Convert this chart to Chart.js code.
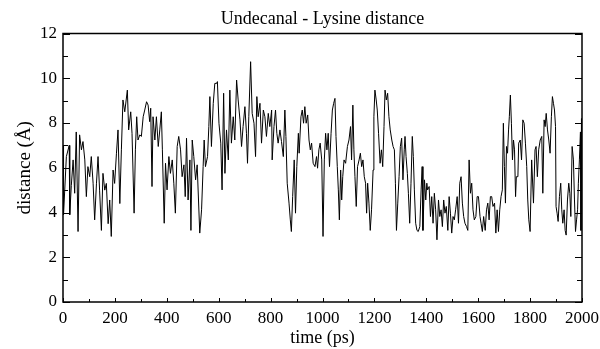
<!DOCTYPE html>
<html>
<head>
<meta charset="utf-8">
<script src="https://cdn.jsdelivr.net/npm/chart.js@4.4.1/dist/chart.umd.min.js"></script>
<style>
  html, body { margin: 0; padding: 0; background: #fff; }
</style>
</head>
<body>
<canvas id="distChart" width="600" height="349"></canvas>
<script>
const chartTitle = 'Undecanal - Lysine distance';
const xLabel = 'time (ps)';
const yLabel = 'distance (\u00c5)';

// time (ps)
const times = [
  0, 2, 13, 24, 26, 32, 39, 45, 51, 58, 64, 71, 77, 84, 90, 96, 103, 109, 116, 122,
  129, 135, 141, 148, 154, 161, 167, 174, 180, 186, 193, 199, 206, 212, 219, 225, 231,
  238, 248, 253, 261, 266, 274, 279, 284, 289, 296, 302, 309, 315, 322, 328, 334, 338,
  343, 347, 354, 360, 367, 373, 379, 383, 390, 395, 401, 408, 414, 421, 427, 433, 440,
  446, 453, 459, 466, 471, 476, 482, 489, 493, 498, 504, 511, 517, 527,
  534, 540, 544, 549, 557, 562, 566, 572, 579, 585, 592, 595, 601, 608, 613, 619, 624,
  630, 637, 643, 649, 656, 662, 669, 675, 682, 688, 694, 701, 707, 711, 716, 723, 729,
  736, 742, 747, 752, 759, 765, 772,
  778, 784, 791, 797, 804, 806, 813, 819, 824, 829, 836, 842, 849, 855, 859, 864, 871,
  876, 880, 885, 891, 896, 901, 907, 910, 917, 922, 927, 932, 937, 943, 948, 953, 958,
  964, 971, 977, 981, 986, 991, 997, 1002, 1007, 1012, 1017, 1022, 1027, 1033, 1038, 1043,
  1048, 1052, 1057, 1061, 1065, 1070, 1074, 1078, 1083, 1089, 1096, 1102, 1108, 1112,
  1117, 1121, 1125, 1130, 1135, 1141, 1146, 1151, 1156, 1161, 1166, 1170, 1174, 1179,
  1184, 1189, 1195, 1198, 1202, 1207, 1211, 1216, 1222, 1227, 1232, 1237, 1241, 1246,
  1251, 1256, 1261, 1267, 1272, 1277, 1281, 1285, 1290, 1295, 1300, 1305, 1310, 1315,
  1318, 1322, 1327, 1331, 1336, 1341, 1346, 1350, 1354, 1359, 1364, 1369, 1375, 1380,
  1384, 1387, 1393, 1398, 1402, 1405, 1411, 1416, 1421, 1426, 1431, 1436, 1441, 1447,
  1452, 1457, 1462, 1467, 1472, 1477, 1483, 1488, 1493, 1498, 1503, 1508, 1513, 1519,
  1524, 1529, 1534, 1539, 1544, 1549, 1555, 1560, 1565, 1570, 1575, 1580, 1585,
  1591, 1596, 1601, 1607, 1611, 1616, 1621, 1627, 1632, 1637, 1642, 1647, 1652, 1657,
  1663, 1668, 1673, 1678, 1683, 1688, 1693, 1697, 1701, 1705, 1709, 1713, 1717, 1720,
  1724, 1728, 1732, 1736, 1740, 1744, 1747, 1753, 1756, 1762, 1767, 1772, 1777, 1782,
  1787, 1791, 1795,
  1800, 1806, 1813, 1819, 1823, 1828, 1833, 1839, 1845, 1849, 1854, 1858, 1862, 1867,
  1872, 1877, 1882, 1886, 1890, 1894, 1898, 1900, 1904, 1908, 1913, 1918, 1922, 1926,
  1931, 1935, 1939, 1944, 1949, 1953, 1957, 1962, 1967, 1971, 1975, 1979, 1983, 1986,
  1990, 1994, 1996, 1998, 2000
];

// distance (Angstrom) at each time above
const distance = [
  7.0, 3.9, 6.5, 7.0, 3.9, 5.2, 6.35, 4.86, 7.6, 3.15, 7.47, 6.8, 7.17, 6.35, 4.71, 6.05, 5.6, 6.5, 5.31, 3.67,
  5.31, 6.5, 5.0, 3.2, 5.75, 5.0, 5.3, 3.5, 4.56, 2.93, 5.9, 5.3, 6.65, 7.69, 4.4, 6.8, 9.03,
  8.5, 9.47, 7.69, 8.5, 7.54, 3.97, 6.8, 8.28, 7.24, 7.47, 7.4, 8.28, 8.58, 8.95, 8.8, 8.06, 8.66,
  5.16, 8.28, 7.24, 8.28, 6.95, 7.69, 8.5, 6.8, 3.52, 6.2, 5.01, 6.5, 5.75, 6.35, 5.31, 3.97, 6.95,
  7.4, 6.8, 5.6, 6.13, 4.71, 7.32, 4.56, 6.35, 3.2, 7.24, 6.5, 5.46, 6.13, 3.08,
  4.12, 6.05, 7.24, 6.05, 6.5, 7.84, 9.18, 6.95, 8.88, 9.77, 9.77, 9.85, 7.99, 7.1, 5.01, 9.33, 5.75,
  7.69, 6.35, 9.47, 7.1, 8.28, 7.24, 9.92, 9.03, 8.14, 6.95, 7.84, 8.73, 7.54, 6.2, 8.28, 10.74, 8.43,
  7.99, 6.5, 9.18, 8.28, 8.88, 7.1, 8.58,
  8.28, 7.4, 8.43, 7.84, 8.58, 6.35, 7.84, 8.58, 7.54, 7.1, 7.69, 7.17, 6.5, 8.58, 7.4, 5.31, 4.42,
  3.67, 3.15, 4.71, 6.35, 3.97, 6.05, 7.54, 6.65, 8.28, 8.58, 7.99, 8.73, 7.99, 8.36, 7.24, 6.8, 7.1,
  6.2, 6.05, 6.5, 5.98, 6.8, 7.1, 6.35, 2.93, 6.35, 7.54, 6.8, 7.54, 6.05, 7.54, 8.58, 8.88,
  9.1, 7.4, 6.05, 5.01, 3.67, 5.9, 4.56, 5.6, 6.35, 6.2, 6.95, 7.24, 7.84, 6.35,
  8.8, 6.8, 5.6, 4.27, 6.05, 6.35, 6.65, 6.05, 6.35, 5.6, 5.31, 3.97, 5.31, 4.42,
  3.2, 4.12, 5.9, 8.28, 9.47, 9.03, 8.58, 7.54, 6.2, 6.8, 6.05, 7.84, 9.47, 9.03,
  9.33, 8.28, 7.69, 7.24, 6.95, 6.8, 5.31, 3.2, 4.42, 5.6, 6.95, 7.32, 5.46, 6.8,
  7.4, 6.5, 5.75, 4.86, 3.52, 5.31, 7.4, 6.5, 5.01, 3.52, 3.2, 3.15, 3.37, 5.01,
  6.05, 3.2, 5.46, 4.56, 5.31, 5.01, 5.16, 3.82, 4.71, 3.52, 4.86, 4.12, 2.78, 4.56,
  3.82, 4.12, 3.37, 4.56, 3.97, 4.27, 3.2, 4.71, 3.97, 3.08, 3.82, 3.67, 4.12, 4.71,
  3.52, 5.31, 5.6, 4.42, 3.82, 3.52, 3.37, 3.2, 6.35, 4.86, 5.31, 4.12, 3.67,
  3.82, 4.71, 4.71, 3.82, 3.52, 3.15, 3.82, 3.2, 4.12, 4.42, 3.67, 4.71, 4.71, 4.27,
  4.42, 3.08, 4.12, 3.15, 4.12, 4.71, 5.01, 7.99, 6.05, 4.42, 6.95, 6.65, 7.69, 8.28,
  9.25, 7.99, 6.35, 7.24, 6.8, 4.71, 5.6, 5.6, 7.1, 7.24, 6.35, 8.14, 7.99, 7.1,
  6.05, 4.56, 3.67,
  3.15, 6.35, 4.42, 6.8, 6.95, 5.6, 6.8, 7.24, 7.4, 4.86, 8.14, 7.84, 8.43, 7.69,
  7.24, 6.65, 8.28, 9.18, 8.88, 8.58, 7.84, 4.27, 3.97, 3.6, 4.71, 5.31, 4.12, 3.52,
  4.12, 3.2, 2.99, 4.56, 5.31, 4.86, 3.82, 6.95, 6.35, 4.56, 3.15, 3.67, 4.12, 5.31,
  6.35, 7.6, 3.2, 8.2, 4.0
];

const xTicks = [0, 200, 400, 600, 800, 1000, 1200, 1400, 1600, 1800, 2000];
const yTicks = [0, 2, 4, 6, 8, 10, 12];

const serif = '"Liberation Serif", "Times New Roman", serif';

// box round the plot, with inward ticks like the original (grace style)
const framePlugin = {
  id: 'frame',
  afterDraw(chart) {
    const { ctx, chartArea: a } = chart;
    const x = chart.scales.x;
    const y = chart.scales.y;
    ctx.save();
    ctx.strokeStyle = '#000';
    ctx.lineWidth = 1.5;
    ctx.strokeRect(a.left, a.top, a.right - a.left, a.bottom - a.top);
    ctx.lineWidth = 1;
    ctx.beginPath();
    for (let t = xTicks[0]; t <= xTicks[xTicks.length - 1]; t += 100) {
      const px = Math.round(x.getPixelForValue(t)) + 0.5;
      const len = xTicks.includes(t) ? 4 : 3;
      ctx.moveTo(px, a.bottom);
      ctx.lineTo(px, a.bottom - len);
    }
    for (let v = yTicks[0]; v <= yTicks[yTicks.length - 1]; v += 1) {
      const py = Math.round(y.getPixelForValue(v)) + 0.5;
      const len = yTicks.includes(v) ? 7 : 5;
      ctx.moveTo(a.left, py);
      ctx.lineTo(a.left + len, py);
      ctx.moveTo(a.right, py);
      ctx.lineTo(a.right - len, py);
    }
    ctx.stroke();
    ctx.restore();
  }
};

// keep the plot box where the original has it, ignoring label overhang
const fitX = h => s => { s.height = h; s.paddingLeft = 0; s.paddingRight = 0; };

new Chart(document.getElementById('distChart'), {
  type: 'line',
  data: {
    datasets: [{
      data: times.map((t, i) => ({ x: t, y: distance[i] })),
      borderColor: '#000',
      borderWidth: 1,
      pointRadius: 0,
      tension: 0,
      fill: false
    }]
  },
  options: {
    responsive: false,
    animation: false,
    layout: { padding: { left: 0, right: 18, top: 0, bottom: 0 } },
    plugins: {
      legend: { display: false },
      title: { display: false },
      tooltip: { enabled: false }
    },
    scales: {
      x: {
        type: 'linear',
        position: 'bottom',
        min: 0,
        max: 2000,
        afterBuildTicks: s => { s.ticks = xTicks.map(v => ({ value: v })); },
        afterFit: fitX(47),
        ticks: {
          color: '#000', padding: 6, maxRotation: 0, font: { family: serif, size: 17 },
          callback: v => String(v)
        },
        grid: { display: false, drawTicks: false },
        border: { display: false },
        title: { display: true, text: xLabel, color: '#000', padding: 0, font: { family: serif, size: 18 } }
      },
      top: {
        type: 'linear',
        position: 'top',
        axis: 'x',
        min: 0,
        max: 2000,
        afterFit: fitX(33.5),
        ticks: { display: false },
        grid: { display: false, drawTicks: false },
        border: { display: false },
        title: { display: true, text: chartTitle, color: '#000', padding: { top: 8, bottom: 0 }, font: { family: serif, size: 18 } }
      },
      y: {
        min: 0,
        max: 12,
        afterBuildTicks: s => { s.ticks = yTicks.map(v => ({ value: v })); },
        afterFit: s => { s.width = 63; s.paddingTop = 0; s.paddingBottom = 0; },
        ticks: { color: '#000', padding: 6, font: { family: serif, size: 17 }, callback: v => String(v) },
        grid: { display: false, drawTicks: false },
        border: { display: false },
        title: { display: true, text: yLabel, color: '#000', padding: { top: 14, bottom: 0 }, font: { family: serif, size: 19 } }
      }
    }
  },
  plugins: [framePlugin]
});
</script>
</body>
</html>
